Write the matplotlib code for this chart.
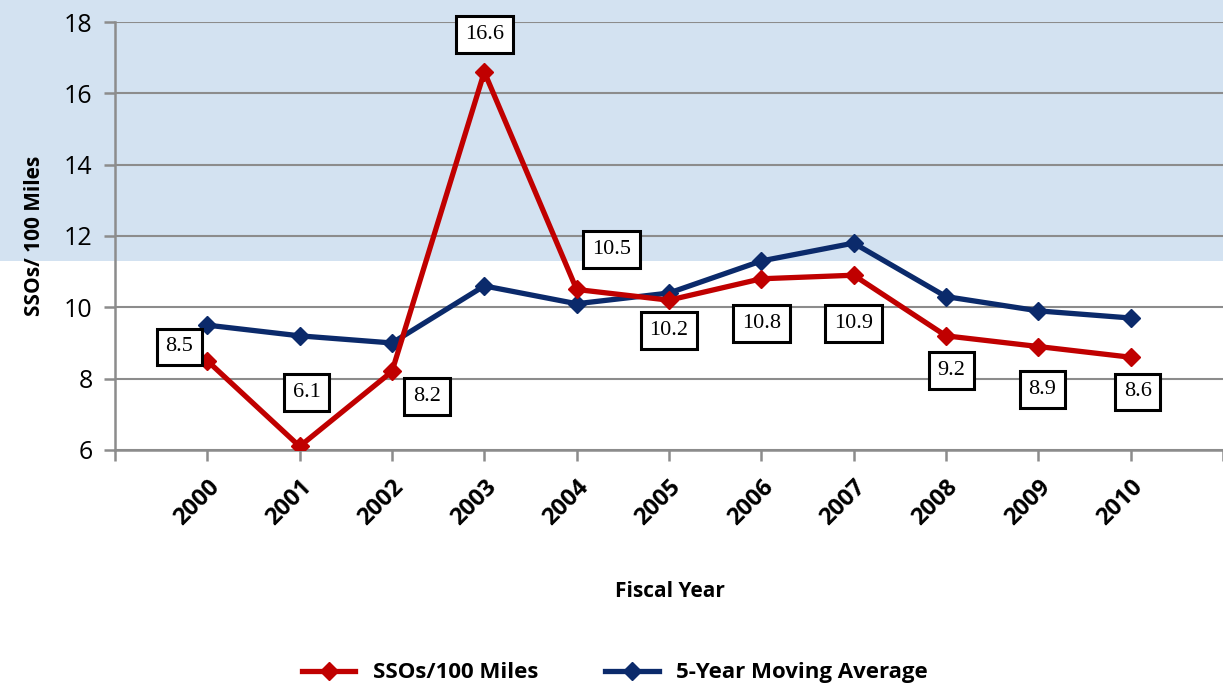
import matplotlib.pyplot as plt
from matplotlib.patches import Rectangle

years = [2000, 2001, 2002, 2003, 2004, 2005, 2006, 2007, 2008, 2009, 2010]
sso_per_100mi = [8.5, 6.1, 8.2, 16.6, 10.5, 10.2, 10.8, 10.9, 9.2, 8.9, 8.6]
moving_avg = [9.5, 9.2, 9.0, 10.6, 10.1, 10.4, 11.3, 11.8, 10.3, 9.9, 9.7]

# label offsets in points (dx, dy) for each SSO value box
label_offsets = [(-20, 10), (5, 39), (25, -18), (0, 27), (25, 29), (0, -22),
                 (0, -32), (0, -35), (4, -25), (3, -31), (5, -25)]

red = "#C00000"
navy = "#0B2A6B"
grid_gray = "#8C8C8C"
band = "#D3E2F1"
sans = ["Open Sans", "DejaVu Sans"]

fig = plt.figure(figsize=(12.23, 6.88), dpi=100)
# light blue band behind the upper part of the figure
fig.patches.append(Rectangle((0, 0.6206), 1, 0.3794, transform=fig.transFigure,
                             facecolor=band, edgecolor="none", zorder=-5))

ax = fig.add_axes([0.094, 0.346, 0.906, 0.622])
ax.set_facecolor("none")

ax.plot(years, moving_avg, color=navy, lw=3.8, marker="D", ms=9, zorder=3,
        label="5-Year Moving Average")
ax.plot(years, sso_per_100mi, color=red, lw=3.8, marker="D", ms=9, zorder=4,
        label="SSOs/100 Miles")

for x, y, (dx, dy) in zip(years, sso_per_100mi, label_offsets):
    ax.annotate(f"{y:.1f}", (x, y), xytext=(dx, dy), textcoords="offset points",
                ha="center", va="center", fontsize=16, family="Liberation Serif",
                zorder=6,
                bbox=dict(boxstyle="square,pad=0.4", facecolor="white",
                          edgecolor="black", linewidth=2.2))

ax.set_xlim(1999, 2011)
ax.set_ylim(6, 18)
ax.set_yticks(range(6, 19, 2))
ax.set_xticks(list(range(1999, 2012)))
ax.set_xticklabels([""] + [str(y) for y in years] + [""])

ax.grid(axis="y", color=grid_gray, lw=1.5, zorder=1)
ax.set_axisbelow(True)
for side in ["top", "right"]:
    ax.spines[side].set_visible(False)
for side in ["left", "bottom"]:
    ax.spines[side].set_color(grid_gray)
    ax.spines[side].set_linewidth(1.8)

ax.tick_params(axis="both", color=grid_gray, width=1.8, length=8)
ax.tick_params(axis="y", labelsize=18, pad=8)
ax.tick_params(axis="x", pad=10)
for lab in ax.get_yticklabels():
    lab.set_family(sans)
for lab in ax.get_xticklabels():
    lab.set_rotation(45)
    lab.set_ha("right")
    lab.set_rotation_mode("anchor")
    lab.set_fontsize(17)
    lab.set_fontweight("bold")
    lab.set_family(sans)

ax.set_ylabel("SSOs/ 100 Miles", fontsize=15, fontweight="bold", labelpad=14,
              family=sans)
fig.text(0.548, 0.14, "Fiscal Year", ha="center", va="center", fontsize=15,
         fontweight="bold", family=sans)

handles, labels = ax.get_legend_handles_labels()
fig.legend(handles[::-1], labels[::-1], loc="center", bbox_to_anchor=(0.503, 0.022),
           ncol=2, frameon=False, handlelength=2.4, columnspacing=3,
           prop=dict(size=16, weight="bold", family=sans))

fig.savefig("out.png", dpi=100)
